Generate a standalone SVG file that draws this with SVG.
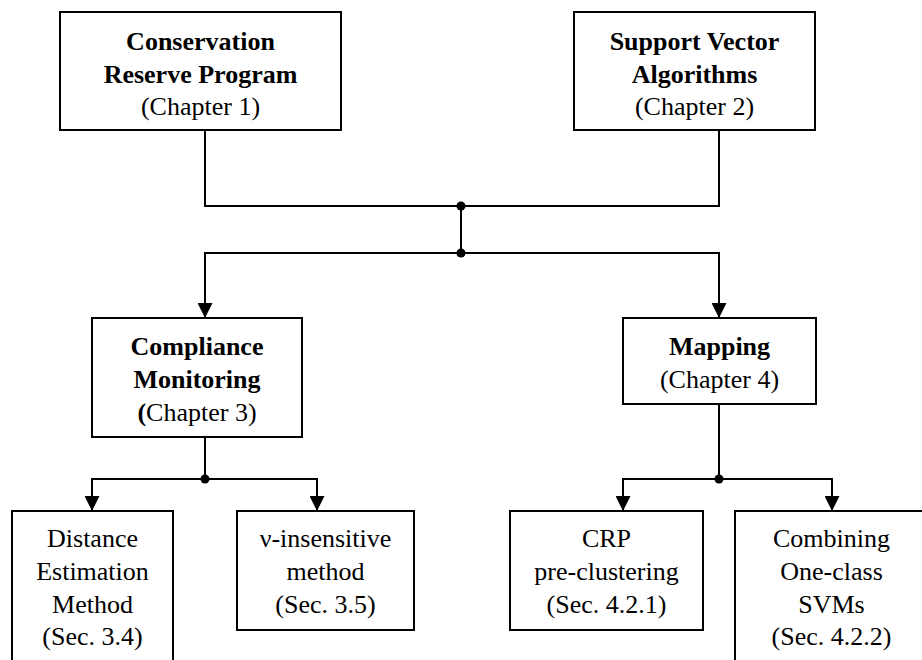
<svg xmlns="http://www.w3.org/2000/svg" width="922" height="660" viewBox="0 0 922 660">
  <style>
    .box { fill: #ffffff; stroke: #000000; stroke-width: 2; }
    .wire { fill: none; stroke: #000000; stroke-width: 2; }
    .dot { fill: #000000; }
    text { font-family: "Liberation Serif", "Times New Roman", serif; font-size: 26px; fill: #000000; text-anchor: middle; }
    .b { font-weight: bold; }
  </style>
  <defs>
    <marker id="arrow" viewBox="0 0 15 15" refX="15" refY="7.5" markerWidth="15" markerHeight="15" markerUnits="userSpaceOnUse" orient="auto">
      <path d="M0,0 L15,7.5 L0,15 Z" fill="#000000"/>
    </marker>
  </defs>

  <rect width="922" height="660" fill="#ffffff"/>

  <g id="connectors">
    <path class="wire" d="M205,130 V206 H719 V130"/>
    <path class="wire" d="M461,206 V253"/>
    <path class="wire" d="M461,253 H205 V318" marker-end="url(#arrow)"/>
    <path class="wire" d="M461,253 H719 V318" marker-end="url(#arrow)"/>
    <path class="wire" d="M205,437 V479"/>
    <path class="wire" d="M205,479 H92 V511" marker-end="url(#arrow)"/>
    <path class="wire" d="M205,479 H317 V511" marker-end="url(#arrow)"/>
    <path class="wire" d="M719,404 V479"/>
    <path class="wire" d="M719,479 H623 V511" marker-end="url(#arrow)"/>
    <path class="wire" d="M719,479 H832 V511" marker-end="url(#arrow)"/>
    <circle class="dot" cx="461" cy="206" r="4.5"/>
    <circle class="dot" cx="461" cy="253" r="4.5"/>
    <circle class="dot" cx="205" cy="479" r="4.5"/>
    <circle class="dot" cx="719" cy="479" r="4.5"/>
  </g>

  <g id="crp">
    <rect class="box" x="60" y="12" width="281" height="118"/>
    <text class="b" x="200.5" y="50">Conservation</text>
    <text class="b" x="200.5" y="82.5">Reserve Program</text>
    <text x="200.5" y="115">(Chapter 1)</text>
  </g>

  <g id="sva">
    <rect class="box" x="574" y="12" width="241" height="118"/>
    <text class="b" x="694.5" y="50">Support Vector</text>
    <text class="b" x="694.5" y="82.5">Algorithms</text>
    <text x="694.5" y="115">(Chapter 2)</text>
  </g>

  <g id="compliance">
    <rect class="box" x="92" y="318" width="210" height="119"/>
    <text class="b" x="197" y="355">Compliance</text>
    <text class="b" x="197" y="388">Monitoring</text>
    <text x="197" y="421"><tspan class="b">(</tspan>Chapter 3)</text>
  </g>

  <g id="mapping">
    <rect class="box" x="623" y="318" width="193" height="86"/>
    <text class="b" x="719.5" y="355">Mapping</text>
    <text x="719.5" y="388">(Chapter 4)</text>
  </g>

  <g id="distance">
    <rect class="box" x="12" y="511" width="161" height="170"/>
    <text x="92.5" y="547">Distance</text>
    <text x="92.5" y="580">Estimation</text>
    <text x="92.5" y="613">Method</text>
    <text x="92.5" y="645">(Sec. 3.4)</text>
  </g>

  <g id="nu-insensitive">
    <rect class="box" x="237" y="511" width="177" height="119"/>
    <text x="325.5" y="547">ν-insensitive</text>
    <text x="325.5" y="580">method</text>
    <text x="325.5" y="613">(Sec. 3.5)</text>
  </g>

  <g id="preclustering">
    <rect class="box" x="510" y="511" width="193" height="119"/>
    <text x="606.5" y="547">CRP</text>
    <text x="606.5" y="580">pre-clustering</text>
    <text x="606.5" y="613">(Sec. 4.2.1)</text>
  </g>

  <g id="one-class">
    <rect class="box" x="735" y="511" width="193" height="170"/>
    <text x="831.5" y="547">Combining</text>
    <text x="831.5" y="580">One-class</text>
    <text x="831.5" y="613">SVMs</text>
    <text x="831.5" y="645">(Sec. 4.2.2)</text>
  </g>
</svg>
